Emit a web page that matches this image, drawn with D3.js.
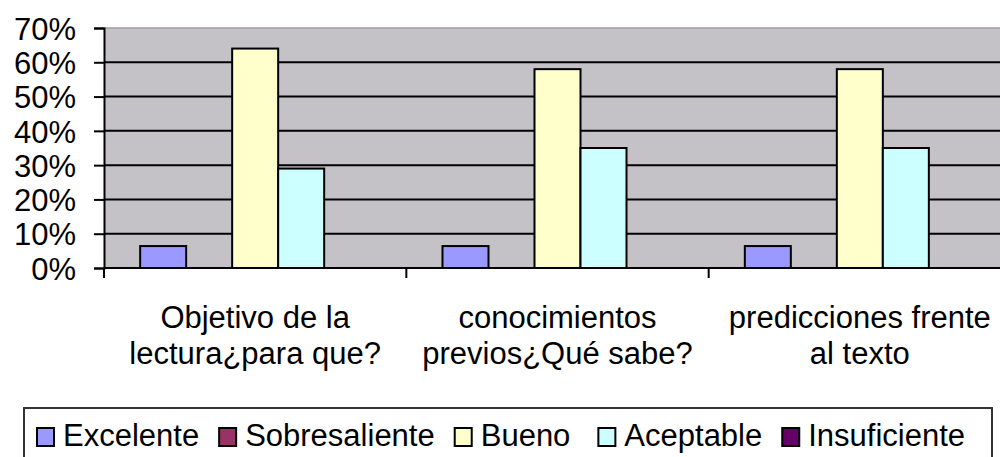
<!DOCTYPE html>
<html>
<head>
<meta charset="utf-8">
<script src="https://cdn.jsdelivr.net/npm/d3@7"></script>
<style>
  body { margin: 0; background: #fff; }
  svg { display: block; font-family: "Liberation Sans", Arial, sans-serif; }
</style>
</head>
<body>
<div id="chart"></div>
<script>
// categories (two lines each) and series
const categories = [
  ["Objetivo de la", "lectura¿para que?"],
  ["conocimientos", "previos¿Qué sabe?"],
  ["predicciones frente", "al texto"]
]
const seriesNames = ["Excelente", "Sobresaliente", "Bueno", "Aceptable", "Insuficiente"]
const seriesColors = ["#9999ff", "#993366", "#ffffcc", "#ccffff", "#660066"]
const excelente = [0.064, 0.064, 0.064]
const sobresaliente = [0, 0, 0]
const bueno = [0.64, 0.58, 0.58]
const aceptable = [0.29, 0.35, 0.35]
const insuficiente = [0, 0, 0]
const yTicks = [0, 0.1, 0.2, 0.3, 0.4, 0.5, 0.6, 0.7]

const seriesValues = [excelente, sobresaliente, bueno, aceptable, insuficiente]

const width = 1000, height = 457
const margin = { top: 28, left: 104, plotRight: 1011, bottom: 268 }

const svg = d3.select("#chart").append("svg")
    .attr("width", width)
    .attr("height", height)

// scales
const x = d3.scaleBand()
    .domain(d3.range(categories.length))
    .range([margin.left, margin.plotRight])
    .padding(0)

const xInner = d3.scaleBand()
    .domain(d3.range(seriesNames.length))
    .range([0, x.bandwidth()])
    .paddingInner(0)
    .paddingOuter(0.786)

const y = d3.scaleLinear()
    .domain([0, 0.7])
    .range([margin.bottom, margin.top])

// plot background
svg.append("rect")
    .attr("x", margin.left)
    .attr("y", margin.top)
    .attr("width", margin.plotRight - margin.left)
    .attr("height", margin.bottom - margin.top)
    .style("fill", "#c4c2c6")

// top border of the plot area
svg.append("line")
    .attr("x1", margin.left).attr("x2", margin.plotRight)
    .attr("y1", y(0.7)).attr("y2", y(0.7))
    .attr("stroke", "#a09ea2")
    .attr("stroke-width", 1.5)

// gridlines
svg.append("g")
    .selectAll("line")
    .data(yTicks.filter(function(t) { return t > 0 && t < 0.7 }))
    .enter()
    .append("line")
        .attr("x1", margin.left).attr("x2", margin.plotRight)
        .attr("y1", function(t) { return y(t) }).attr("y2", function(t) { return y(t) })
        .attr("stroke", "#000")
        .attr("stroke-width", 2)

// bars (series with only zeros draw nothing)
const groups = svg.append("g")
    .selectAll("g")
    .data(seriesValues)
    .enter()
    .append("g")
        .style("fill", function(d, i) { return seriesColors[i] })

groups.each(function(values, s) {
    d3.select(this).selectAll("rect")
        .data(values.filter(function(v) { return v > 0 }).length ? values : [])
        .enter()
        .append("rect")
            .attr("x", function(v, c) { return x(c) + xInner(s) })
            .attr("y", function(v) { return y(v) })
            .attr("width", xInner.bandwidth())
            .attr("height", function(v) { return y(0) - y(v) })
            .attr("stroke", "#000")
            .attr("stroke-width", 2)
})

// y axis
const yAxis = svg.append("g")
    .attr("transform", "translate(" + margin.left + ",0)")
    .call(d3.axisLeft(y).tickValues(yTicks).tickFormat(d3.format(".0%")).tickSize(10).tickPadding(18))
yAxis.select(".domain").attr("stroke", "#000").attr("stroke-width", 2)
yAxis.selectAll(".tick line").attr("stroke", "#000").attr("stroke-width", 2)
yAxis.selectAll("text")
    .style("font-size", "31px")
    .style("fill", "#000")
    .attr("dy", "0.36em")

// x axis line and category separators
svg.append("line")
    .attr("x1", margin.left).attr("x2", margin.plotRight)
    .attr("y1", y(0)).attr("y2", y(0))
    .attr("stroke", "#000")
    .attr("stroke-width", 2)

svg.append("g")
    .selectAll("line")
    .data(d3.range(categories.length))
    .enter()
    .append("line")
        .attr("x1", function(c) { return x(c) }).attr("x2", function(c) { return x(c) })
        .attr("y1", y(0)).attr("y2", y(0) + 10)
        .attr("stroke", "#000")
        .attr("stroke-width", 2)

// category labels
const catLabels = svg.append("g")
    .selectAll("text")
    .data(categories)
    .enter()
    .append("text")
        .attr("text-anchor", "middle")
        .attr("x", function(d, c) { return x(c) + x.bandwidth() / 2 })
        .attr("y", 328)
        .style("font-size", "31px")
        .style("fill", "#000")

catLabels.selectAll("tspan")
    .data(function(d) { return d })
    .enter()
    .append("tspan")
        .attr("x", function() { return d3.select(this.parentNode).attr("x") })
        .attr("dy", function(d, i) { return i === 0 ? 0 : 36 })
        .text(function(d) { return d })

// legend box
svg.append("rect")
    .attr("x", 24)
    .attr("y", 408)
    .attr("width", 968)
    .attr("height", 80)
    .style("fill", "#fff")
    .attr("stroke", "#333")
    .attr("stroke-width", 2)

const legend = svg.append("g")
let legendX = 37
seriesNames.forEach(function(name, i) {
    legend.append("rect")
        .attr("x", legendX)
        .attr("y", 428)
        .attr("width", 17)
        .attr("height", 18)
        .style("fill", seriesColors[i])
        .attr("stroke", "#000")
        .attr("stroke-width", 2)
    const t = legend.append("text")
        .attr("x", legendX + 26)
        .attr("y", 446)
        .style("font-size", "31px")
        .style("fill", "#000")
        .text(name)
    legendX = legendX + 26 + t.node().getComputedTextLength() + (name === "Bueno" ? 28 : 20)
})
</script>
</body>
</html>
